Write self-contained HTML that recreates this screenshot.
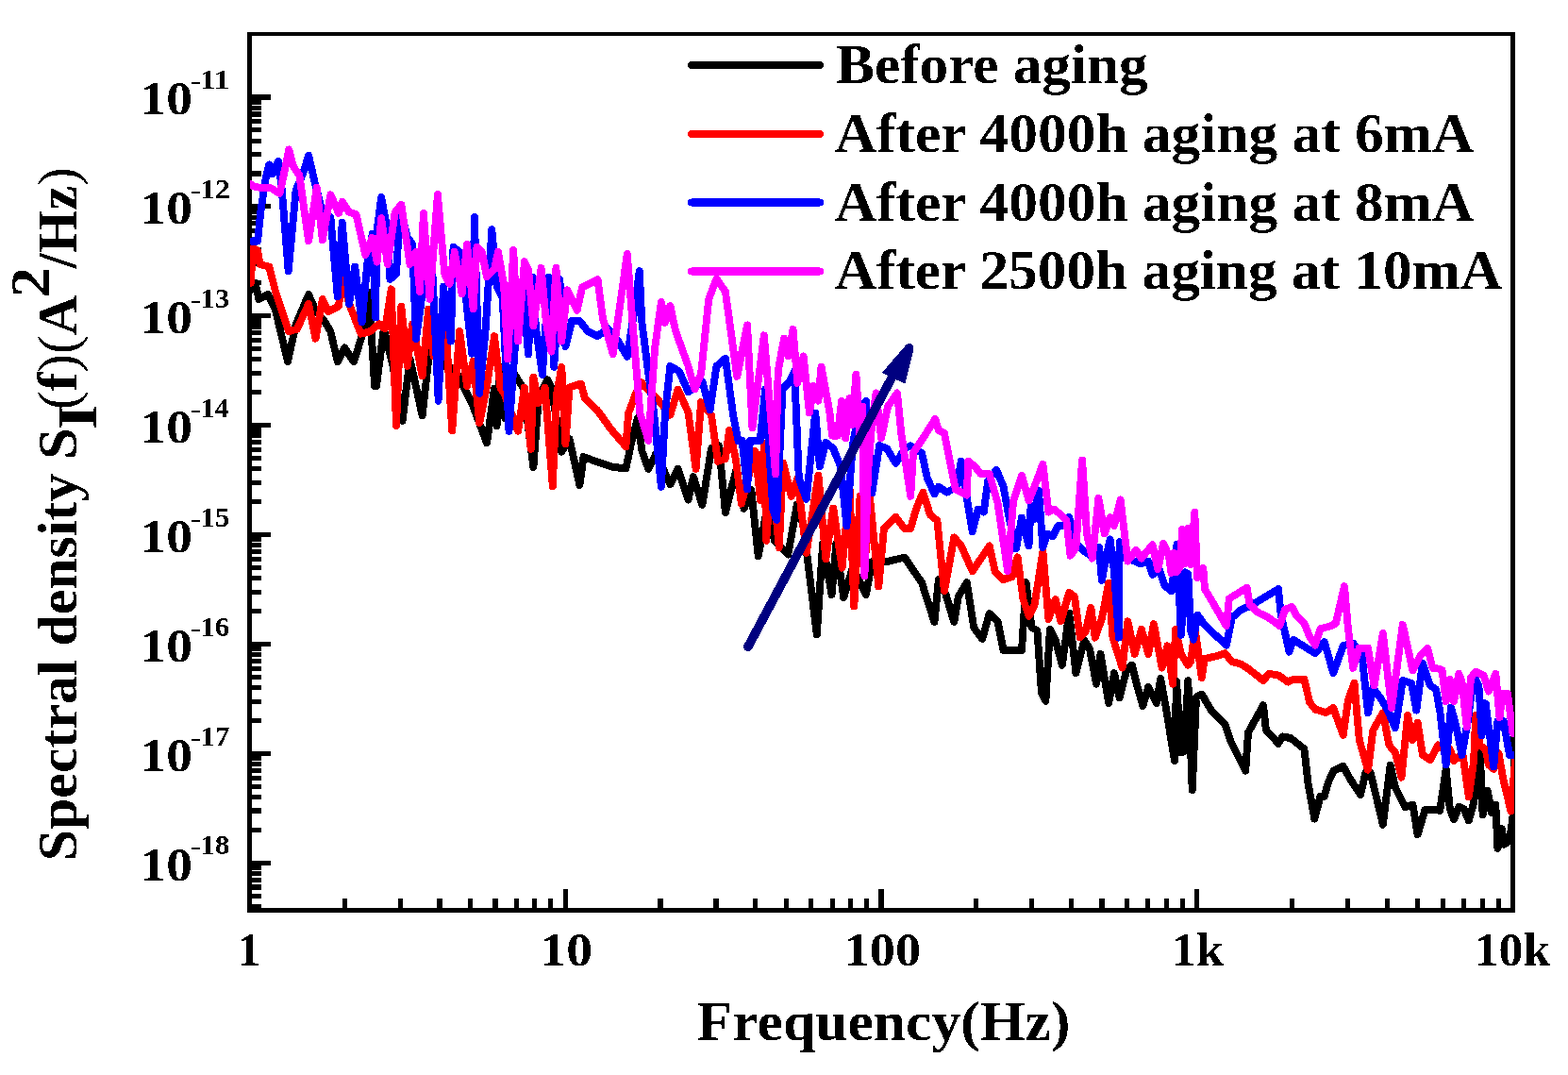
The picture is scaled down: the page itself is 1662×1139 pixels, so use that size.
<!DOCTYPE html><html><head><meta charset="utf-8"><title>Spectral density vs frequency</title><style>html,body{margin:0;padding:0;background:#fff;overflow:hidden;}svg{display:block;}text{font-family:"Liberation Serif","Times New Roman",serif;font-weight:bold;fill:#000;}</style></head><body>
<svg width="1662" height="1139" viewBox="0 0 1662 1139">
<defs>
<clipPath id="pa"><rect x="265" y="38" width="1340" height="924"/></clipPath>
<filter id="bin" filterUnits="userSpaceOnUse" x="0" y="0" width="1662" height="1139" color-interpolation-filters="sRGB"><feComponentTransfer><feFuncA type="discrete" tableValues="0 1"/></feComponentTransfer></filter>
</defs>
<rect x="0" y="0" width="1662" height="1139" fill="#fff"/>
<g>
<g fill="#000" filter="url(#bin)">
<rect x="262" y="34" width="1344" height="4"/>
<rect x="262" y="962" width="1344" height="5"/>
<rect x="262" y="34" width="5" height="933"/>
<rect x="1601" y="34" width="5" height="933"/>
<rect x="267" y="100.5" width="20" height="5"/>
<rect x="267" y="216.4" width="20" height="5"/>
<rect x="267" y="332.3" width="20" height="5"/>
<rect x="267" y="448.2" width="20" height="5"/>
<rect x="267" y="564.1" width="20" height="5"/>
<rect x="267" y="680.0" width="20" height="5"/>
<rect x="267" y="795.9" width="20" height="5"/>
<rect x="267" y="911.8" width="20" height="5"/>
<rect x="267" y="181.5" width="10" height="5"/>
<rect x="267" y="161.1" width="10" height="5"/>
<rect x="267" y="146.6" width="10" height="5"/>
<rect x="267" y="135.4" width="10" height="5"/>
<rect x="267" y="126.2" width="10" height="5"/>
<rect x="267" y="118.5" width="10" height="5"/>
<rect x="267" y="111.7" width="10" height="5"/>
<rect x="267" y="105.8" width="10" height="5"/>
<rect x="267" y="297.4" width="10" height="5"/>
<rect x="267" y="277.0" width="10" height="5"/>
<rect x="267" y="262.5" width="10" height="5"/>
<rect x="267" y="251.3" width="10" height="5"/>
<rect x="267" y="242.1" width="10" height="5"/>
<rect x="267" y="234.4" width="10" height="5"/>
<rect x="267" y="227.6" width="10" height="5"/>
<rect x="267" y="221.7" width="10" height="5"/>
<rect x="267" y="413.3" width="10" height="5"/>
<rect x="267" y="392.9" width="10" height="5"/>
<rect x="267" y="378.4" width="10" height="5"/>
<rect x="267" y="367.2" width="10" height="5"/>
<rect x="267" y="358.0" width="10" height="5"/>
<rect x="267" y="350.3" width="10" height="5"/>
<rect x="267" y="343.5" width="10" height="5"/>
<rect x="267" y="337.6" width="10" height="5"/>
<rect x="267" y="529.2" width="10" height="5"/>
<rect x="267" y="508.8" width="10" height="5"/>
<rect x="267" y="494.3" width="10" height="5"/>
<rect x="267" y="483.1" width="10" height="5"/>
<rect x="267" y="473.9" width="10" height="5"/>
<rect x="267" y="466.2" width="10" height="5"/>
<rect x="267" y="459.4" width="10" height="5"/>
<rect x="267" y="453.5" width="10" height="5"/>
<rect x="267" y="645.1" width="10" height="5"/>
<rect x="267" y="624.7" width="10" height="5"/>
<rect x="267" y="610.2" width="10" height="5"/>
<rect x="267" y="599.0" width="10" height="5"/>
<rect x="267" y="589.8" width="10" height="5"/>
<rect x="267" y="582.1" width="10" height="5"/>
<rect x="267" y="575.3" width="10" height="5"/>
<rect x="267" y="569.4" width="10" height="5"/>
<rect x="267" y="761.0" width="10" height="5"/>
<rect x="267" y="740.6" width="10" height="5"/>
<rect x="267" y="726.1" width="10" height="5"/>
<rect x="267" y="714.9" width="10" height="5"/>
<rect x="267" y="705.7" width="10" height="5"/>
<rect x="267" y="698.0" width="10" height="5"/>
<rect x="267" y="691.2" width="10" height="5"/>
<rect x="267" y="685.3" width="10" height="5"/>
<rect x="267" y="876.9" width="10" height="5"/>
<rect x="267" y="856.5" width="10" height="5"/>
<rect x="267" y="842.0" width="10" height="5"/>
<rect x="267" y="830.8" width="10" height="5"/>
<rect x="267" y="821.6" width="10" height="5"/>
<rect x="267" y="813.9" width="10" height="5"/>
<rect x="267" y="807.1" width="10" height="5"/>
<rect x="267" y="801.2" width="10" height="5"/>
<rect x="267" y="957.9" width="10" height="5"/>
<rect x="267" y="946.7" width="10" height="5"/>
<rect x="267" y="937.5" width="10" height="5"/>
<rect x="267" y="929.8" width="10" height="5"/>
<rect x="267" y="923.0" width="10" height="5"/>
<rect x="267" y="917.1" width="10" height="5"/>
<rect x="362.8" y="952" width="5" height="10"/>
<rect x="421.7" y="952" width="5" height="10"/>
<rect x="463.5" y="952" width="5" height="10"/>
<rect x="496.0" y="952" width="5" height="10"/>
<rect x="522.5" y="952" width="5" height="10"/>
<rect x="544.9" y="952" width="5" height="10"/>
<rect x="564.3" y="952" width="5" height="10"/>
<rect x="581.4" y="952" width="5" height="10"/>
<rect x="596.8" y="942" width="5" height="20"/>
<rect x="697.5" y="952" width="5" height="10"/>
<rect x="756.5" y="952" width="5" height="10"/>
<rect x="798.3" y="952" width="5" height="10"/>
<rect x="830.7" y="952" width="5" height="10"/>
<rect x="857.2" y="952" width="5" height="10"/>
<rect x="879.6" y="952" width="5" height="10"/>
<rect x="899.1" y="952" width="5" height="10"/>
<rect x="916.2" y="952" width="5" height="10"/>
<rect x="931.5" y="942" width="5" height="20"/>
<rect x="1032.3" y="952" width="5" height="10"/>
<rect x="1091.2" y="952" width="5" height="10"/>
<rect x="1133.0" y="952" width="5" height="10"/>
<rect x="1165.5" y="952" width="5" height="10"/>
<rect x="1192.0" y="952" width="5" height="10"/>
<rect x="1214.4" y="952" width="5" height="10"/>
<rect x="1233.8" y="952" width="5" height="10"/>
<rect x="1250.9" y="952" width="5" height="10"/>
<rect x="1266.2" y="942" width="5" height="20"/>
<rect x="1367.0" y="952" width="5" height="10"/>
<rect x="1426.0" y="952" width="5" height="10"/>
<rect x="1467.8" y="952" width="5" height="10"/>
<rect x="1500.2" y="952" width="5" height="10"/>
<rect x="1526.7" y="952" width="5" height="10"/>
<rect x="1549.1" y="952" width="5" height="10"/>
<rect x="1568.6" y="952" width="5" height="10"/>
<rect x="1585.7" y="952" width="5" height="10"/>
</g>
<g clip-path="url(#pa)" fill="none" stroke-width="7.9" stroke-linejoin="round" stroke-linecap="round">
<polyline stroke="#000000" filter="url(#bin)" points="265.7,307.0 270.6,299.7 274.3,316.9 284.1,312.0 291.5,326.7 305.0,383.2 313.6,343.9 327.1,312.0 334.5,329.1 343.1,339.0 350.4,351.3 357.8,383.2 365.2,368.4 375.0,383.2 383.6,356.2 391.0,309.5 397.1,409.0 399.0,409.0 406.8,348.4 416.0,385.3 426.6,445.8 434.5,380.0 447.6,440.5 455.5,369.5 471.3,387.9 481.8,390.5 500.3,427.4 516.0,469.5 524.0,411.6 526.6,451.0 530.0,388.8 535.4,443.3 543.6,394.2 554.5,410.6 565.4,495.0 570.8,421.5 580.4,402.4 584.5,410.6 595.3,478.6 603.5,465.0 614.4,514.0 618.5,484.1 633.5,489.5 649.8,495.0 663.4,496.3 668.9,470.5 675.7,443.3 680.4,477.8 687.3,496.9 695.4,480.5 710.4,513.2 718.6,496.9 729.5,529.5 734.9,505.0 744.4,535.0 754.0,475.1 762.1,472.4 768.9,543.2 779.8,499.6 788.5,539.0 796.3,519.0 803.7,589.6 816.4,520.0 820.6,572.7 835.3,587.5 844.8,534.8 851.6,557.3 865.8,672.6 872.1,576.3 881.6,630.0 886.3,576.3 894.2,633.1 903.7,601.6 917.9,630.0 924.2,595.2 940.0,595.2 958.9,590.5 968.4,604.7 977.0,617.2 990.4,659.0 994.9,614.2 1002.3,629.1 1011.3,659.0 1015.8,632.1 1024.8,617.2 1032.2,665.0 1041.2,677.0 1048.7,650.0 1057.6,659.0 1063.6,688.9 1083.0,688.9 1087.5,617.2 1093.5,665.0 1099.4,668.0 1103.9,733.7 1108.4,742.7 1112.9,666.9 1118.7,678.5 1125.9,704.6 1133.2,649.6 1140.4,713.3 1149.1,678.5 1154.9,687.2 1162.1,724.8 1166.5,693.0 1175.2,745.1 1181.0,713.3 1186.7,739.3 1194.0,710.4 1199.8,704.6 1205.6,727.7 1211.4,748.0 1217.2,727.7 1225.8,745.1 1230.2,719.0 1236.0,750.9 1245.0,806.0 1247.0,722.0 1251.9,797.3 1255.0,796.4 1259.3,721.1 1263.7,837.0 1268.0,738.5 1273.8,735.6 1284.0,753.0 1298.4,767.5 1304.2,784.8 1320.2,816.7 1323.0,776.2 1339.0,747.2 1341.9,773.3 1354.9,787.7 1359.3,780.5 1368.0,782.0 1382.4,793.5 1386.5,830.0 1393.3,867.5 1399.5,843.8 1403.7,843.8 1407.9,828.9 1413.2,817.1 1423.7,811.8 1431.6,826.3 1442.1,842.1 1447.4,818.4 1452.6,818.4 1465.8,873.7 1473.7,810.5 1478.9,834.2 1489.5,855.3 1497.4,852.6 1502.6,884.2 1510.5,857.9 1518.4,857.9 1526.3,858.9 1532.6,814.7 1536.8,856.8 1541.1,868.4 1546.3,854.7 1551.6,856.8 1556.8,869.5 1562.1,850.5 1568.4,789.5 1571.6,863.2 1576.8,837.9 1581.1,861.1 1585.3,852.6 1587.4,898.9 1591.6,877.9 1594.7,894.7 1600.0,890.5 1603.5,865.3"/>
<polyline stroke="#ff0000" filter="url(#bin)" points="265.7,299.7 268.1,262.8 273.0,265.3 275.5,280.0 285.3,282.5 291.5,307.0 306.2,351.3 314.8,348.8 327.1,321.8 334.5,358.6 341.8,316.9 348.0,330.4 359.0,324.2 362.7,292.3 370.1,321.8 382.4,353.7 392.2,351.3 401.6,343.2 408.2,348.4 414.7,306.3 420.0,451.0 425.3,324.7 431.8,387.9 437.1,343.2 447.6,398.4 454.2,327.4 459.5,377.4 472.6,348.4 479.2,456.3 487.1,351.0 495.0,409.0 501.6,382.6 508.2,448.4 516.0,409.0 524.0,356.3 530.5,411.6 534.1,416.0 549.1,456.9 555.9,410.6 562.7,475.9 565.4,399.7 570.8,426.9 577.6,410.6 585.8,515.4 589.9,418.7 595.3,388.8 599.4,470.5 603.5,410.6 615.8,406.5 619.8,421.5 633.5,435.1 647.1,454.1 663.4,473.2 666.1,437.8 674.3,416.0 679.7,405.1 691.3,417.9 699.5,426.1 710.4,439.7 718.6,412.5 729.5,437.0 737.6,496.9 743.1,426.1 754.0,439.7 760.8,488.7 768.9,486.0 773.0,456.0 779.8,486.0 785.8,533.7 800.6,478.0 806.0,530.0 810.0,470.0 812.2,572.7 818.0,500.0 825.8,580.0 830.0,490.5 838.9,525.8 845.3,506.8 854.7,585.8 867.4,503.7 875.3,592.1 883.2,538.4 892.6,601.6 900.5,516.3 905.3,642.6 911.6,525.8 916.5,600.0 922.0,528.0 931.3,621.6 936.9,559.8 949.5,547.9 958.9,560.5 965.0,560.4 971.0,539.5 978.4,521.6 985.9,545.5 993.4,551.5 1000.9,626.2 1011.3,569.4 1018.8,578.4 1030.7,605.2 1048.7,578.4 1054.6,605.2 1063.6,614.2 1072.6,611.2 1078.5,590.3 1084.5,635.1 1090.5,653.0 1096.5,641.1 1105.4,584.3 1111.4,656.0 1118.7,635.1 1124.5,658.2 1133.2,627.8 1139.0,632.2 1144.8,675.6 1150.5,669.8 1156.3,643.8 1160.7,675.6 1167.9,655.3 1175.2,617.7 1179.5,675.6 1189.6,707.5 1195.4,658.2 1202.7,693.0 1209.9,666.9 1217.2,693.0 1222.9,661.1 1231.6,707.5 1237.4,684.3 1243.2,724.8 1246.1,666.9 1251.9,693.0 1259.1,704.6 1262.2,700.9 1266.6,666.1 1273.8,718.2 1276.7,698.0 1289.8,695.1 1298.4,692.2 1305.7,700.9 1315.8,703.8 1324.5,709.6 1339.0,721.1 1344.8,713.9 1354.9,715.3 1365.0,722.6 1370.8,719.7 1382.4,719.7 1388.2,744.3 1394.0,751.5 1405.3,755.3 1413.2,750.0 1423.7,778.9 1428.9,742.1 1435.5,723.7 1440.8,784.2 1450.0,815.8 1455.3,773.7 1465.8,755.3 1472.4,789.5 1478.9,797.4 1485.5,823.7 1492.1,757.9 1497.4,784.2 1502.6,765.8 1507.9,800.0 1515.8,805.3 1524.2,789.5 1529.5,793.7 1536.8,793.7 1541.1,806.3 1545.3,802.1 1550.5,800.0 1556.8,844.2 1562.1,806.3 1564.2,757.9 1568.4,789.5 1574.7,793.7 1577.9,810.5 1583.2,814.7 1588.4,797.9 1593.7,827.4 1601.5,859.5 1606.0,805.0"/>
<polyline stroke="#0000ff" filter="url(#bin)" points="266.9,255.5 273.0,255.5 276.7,221.0 281.7,189.0 285.3,174.4 289.0,184.2 295.2,170.7 298.8,201.4 305.7,287.4 313.6,201.4 321.0,184.2 327.1,164.6 333.2,191.6 340.6,221.0 350.4,230.9 357.8,314.4 362.7,235.8 370.1,321.8 376.2,282.5 383.6,341.4 389.7,275.1 394.6,248.1 398.3,336.5 399.0,248.4 404.2,208.9 409.5,237.9 413.4,295.8 420.0,290.5 424.0,222.1 431.8,251.0 437.1,258.9 441.0,359.0 447.6,311.6 451.6,298.4 458.2,285.3 464.7,424.7 470.0,303.7 477.9,361.6 480.5,261.6 487.1,266.8 493.7,314.2 500.3,374.7 502.9,230.0 508.2,416.8 514.7,348.4 521.3,243.2 526.6,303.7 532.7,315.3 539.5,456.9 546.3,361.6 554.5,309.8 560.0,375.2 564.0,293.5 568.1,348.0 574.9,397.0 581.7,293.5 587.2,388.8 593.2,296.2 599.4,367.0 606.2,339.8 614.4,339.8 622.6,350.7 633.5,356.1 644.3,348.0 655.2,361.6 664.8,377.9 671.6,334.3 677.7,287.2 680.4,341.7 687.3,396.1 692.7,434.2 700.9,515.9 705.0,437.0 710.4,388.0 719.9,393.4 729.5,415.2 744.4,404.3 752.6,434.2 759.4,388.0 768.9,379.8 777.1,439.7 782.5,466.9 786.6,466.9 792.1,518.6 794.8,466.9 805.7,466.9 811.1,412.5 819.3,540.4 823.2,551.0 829.5,412.1 835.8,405.8 842.1,393.2 846.8,506.8 854.7,528.9 864.2,437.4 868.9,494.2 875.3,468.9 883.2,475.2 891.0,494.2 897.4,557.3 903.7,472.1 911.6,431.1 917.9,424.7 924.2,522.6 932.1,472.1 940.0,475.2 949.5,491.0 958.9,475.2 965.0,472.3 977.0,479.8 982.9,506.6 990.4,523.1 994.9,515.6 1003.8,521.6 1014.3,515.6 1018.8,488.7 1024.8,527.6 1030.7,563.4 1036.7,539.5 1042.7,542.5 1047.2,509.6 1056.1,497.7 1063.6,515.6 1069.6,548.5 1077.0,581.3 1083.0,548.5 1090.5,578.4 1092.6,536.0 1096.0,550.0 1101.0,520.0 1105.3,580.0 1110.0,565.6 1115.8,568.5 1121.6,556.9 1127.4,556.9 1133.2,548.2 1139.0,574.3 1147.6,582.9 1156.3,588.7 1165.0,580.0 1167.9,614.8 1172.3,591.6 1176.6,571.4 1181.0,606.1 1185.9,675.6 1186.7,574.3 1194.0,591.6 1202.7,594.5 1208.5,597.4 1217.2,594.5 1221.5,609.0 1228.7,603.2 1234.5,620.6 1241.8,626.4 1247.5,577.0 1251.9,672.7 1256.2,606.1 1259.3,608.2 1262.2,669.0 1265.1,677.7 1269.5,651.6 1275.3,660.3 1284.0,669.0 1299.9,683.5 1305.7,654.5 1315.8,645.8 1323.0,643.0 1333.2,637.2 1354.9,624.1 1357.8,651.6 1366.5,690.7 1370.8,677.7 1382.4,685.0 1394.0,692.2 1403.9,680.3 1413.2,713.2 1423.7,684.2 1434.2,681.6 1443.4,692.1 1450.0,755.3 1455.3,728.9 1463.2,739.5 1471.0,752.6 1478.9,771.1 1486.8,721.1 1496.0,723.7 1501.3,752.6 1507.9,702.6 1515.8,726.3 1522.1,730.5 1526.3,753.7 1532.6,810.5 1537.9,749.5 1543.2,768.4 1549.5,800.0 1555.8,764.2 1562.1,715.8 1567.4,726.3 1570.5,778.9 1574.7,745.3 1583.2,812.6 1587.4,764.2 1593.7,764.2 1600.0,800.0 1603.5,800.0"/>
<polyline stroke="#ff00ff" filter="url(#bin)" points="265.7,195.3 269.4,197.7 276.7,199.0 286.6,199.0 296.4,205.0 300.0,189.0 306.2,158.4 311.1,176.8 317.3,185.4 327.1,255.5 335.7,199.0 341.8,254.2 350.4,206.3 359.0,226.0 362.7,213.7 370.1,224.7 377.5,227.2 387.3,270.2 394.6,251.8 399.6,277.6 404.2,231.3 410.8,280.0 418.7,224.7 425.3,216.8 434.5,280.0 441.0,266.8 445.0,308.9 448.9,226.0 455.5,316.8 463.9,206.3 471.3,290.5 476.6,301.0 481.8,266.8 489.7,311.6 495.0,259.0 501.6,327.4 505.5,261.6 510.8,266.8 516.0,293.2 524.0,285.3 527.9,266.8 534.1,301.7 538.2,380.6 544.2,264.9 549.1,361.6 555.9,277.2 560.0,285.3 565.4,345.2 573.6,284.0 579.0,342.5 584.5,372.5 589.4,284.0 595.3,361.6 601.3,307.1 611.7,328.9 617.1,304.4 633.5,296.2 638.9,337.1 649.8,375.2 664.8,269.0 671.6,356.1 678.4,437.8 687.3,466.9 694.1,368.9 700.9,319.9 705.0,341.7 710.4,324.0 715.8,349.8 729.5,388.0 736.3,412.5 743.1,396.1 751.2,317.2 759.4,295.4 768.9,309.0 781.2,398.9 792.1,344.4 797.5,453.3 809.8,355.3 822.0,502.3 824.7,393.2 831.1,358.4 835.8,377.4 840.5,348.9 845.3,405.8 851.6,377.4 857.9,437.4 862.6,408.9 867.4,424.7 870.5,388.4 879.3,436.2 882.1,461.5 887.8,461.5 892.0,425.0 896.2,464.3 900.4,422.1 903.2,450.2 907.4,396.9 911.6,464.3 914.4,430.6 916.4,610.3 920.0,500.8 924.3,447.4 928.5,416.5 934.1,464.3 941.1,430.6 951.0,416.5 955.2,458.7 965.2,525.8 968.0,479.8 979.9,461.8 991.3,443.9 994.9,455.9 1000.9,458.8 1012.8,518.6 1024.8,524.6 1026.2,488.7 1033.7,494.7 1039.7,502.2 1048.7,502.2 1057.6,533.5 1068.1,605.2 1074.1,530.5 1083.0,503.7 1090.5,530.5 1096.5,515.6 1105.4,491.7 1111.4,542.5 1117.2,539.5 1124.5,545.3 1130.3,551.1 1134.6,588.7 1140.4,580.0 1147.1,487.4 1152.0,565.6 1157.8,591.6 1164.4,527.9 1170.8,565.6 1176.6,548.2 1181.0,556.9 1187.6,529.4 1195.4,594.5 1204.1,582.9 1209.9,591.6 1221.5,577.2 1227.3,603.2 1233.1,575.7 1238.9,588.7 1241.5,607.0 1244.5,586.0 1247.5,606.0 1251.0,600.0 1253.0,561.0 1256.0,597.0 1259.0,560.0 1262.0,598.0 1266.3,542.8 1269.0,612.0 1275.3,602.0 1277.0,624.0 1289.8,645.8 1299.9,663.2 1302.8,634.3 1321.6,622.7 1324.5,640.0 1333.2,648.7 1344.8,654.5 1356.4,663.2 1362.2,645.8 1369.4,643.0 1373.7,651.6 1382.4,660.3 1388.2,674.8 1394.0,683.5 1399.8,666.1 1410.5,663.2 1415.8,660.5 1425.0,621.0 1428.9,665.8 1434.2,707.9 1440.8,686.8 1450.0,686.8 1456.6,726.3 1465.8,671.0 1475.0,750.0 1486.8,661.8 1497.4,710.5 1505.3,694.7 1513.2,686.8 1518.4,707.9 1523.2,708.4 1528.4,709.5 1532.6,743.2 1536.8,720.0 1541.1,743.2 1546.3,713.7 1549.5,722.1 1554.7,770.5 1559.0,717.9 1564.2,711.6 1572.6,715.8 1577.9,732.6 1585.3,713.7 1589.5,760.0 1592.6,734.7 1597.9,734.7 1603.5,776.8"/>
</g>
<g filter="url(#bin)">
<text transform="translate(886.18,87.90) scale(1.0206,1)" font-size="60">Before aging</text>
<text transform="translate(884.69,161.00) scale(1.0232,1)" font-size="60">After 4000h aging at 6mA</text>
<text transform="translate(884.69,234.00) scale(1.0232,1)" font-size="60">After 4000h aging at 8mA</text>
<text transform="translate(884.69,306.00) scale(1.0221,1)" font-size="60">After 2500h aging at 10mA</text>
<text transform="translate(738.77,1102.10) scale(1.0266,1)" font-size="60">Frequency(Hz)</text>
<text transform="translate(252.04,1023.00) scale(0.9653,1)" font-size="50.6">1</text>
<text transform="translate(572.49,1023.00) scale(1.1017,1)" font-size="50.6">10</text>
<text transform="translate(894.61,1023.00) scale(1.0729,1)" font-size="50.6">100</text>
<text transform="translate(1241.44,1023.00) scale(1.0404,1)" font-size="50.6">1k</text>
<text transform="translate(1562.50,1023.00) scale(1.0261,1)" font-size="50.6">10k</text>
<text transform="translate(148.40,121.30) scale(1.0994,1)" font-size="50.6">10</text>
<text transform="translate(201.64,94.10) scale(1.0909,0.8)" font-size="32">-</text>
<text transform="translate(211.97,94.10) scale(1.0939,1)" font-size="30.3">11</text>
<text transform="translate(148.40,237.20) scale(1.0994,1)" font-size="50.6">10</text>
<text transform="translate(201.64,210.00) scale(1.0909,0.8)" font-size="32">-</text>
<text transform="translate(212.08,210.00) scale(1.0491,1)" font-size="30.3">12</text>
<text transform="translate(148.40,353.10) scale(1.0994,1)" font-size="50.6">10</text>
<text transform="translate(201.64,325.90) scale(1.0909,0.8)" font-size="32">-</text>
<text transform="translate(212.10,325.90) scale(1.0393,1)" font-size="30.3">13</text>
<text transform="translate(148.40,469.00) scale(1.0994,1)" font-size="50.6">10</text>
<text transform="translate(201.64,441.80) scale(1.0909,0.8)" font-size="32">-</text>
<text transform="translate(212.15,441.80) scale(1.0202,1)" font-size="30.3">14</text>
<text transform="translate(148.40,584.90) scale(1.0994,1)" font-size="50.6">10</text>
<text transform="translate(201.64,557.70) scale(1.0909,0.8)" font-size="32">-</text>
<text transform="translate(212.10,557.70) scale(1.0393,1)" font-size="30.3">15</text>
<text transform="translate(148.40,700.80) scale(1.0994,1)" font-size="50.6">10</text>
<text transform="translate(201.64,673.60) scale(1.0909,0.8)" font-size="32">-</text>
<text transform="translate(212.13,673.60) scale(1.0296,1)" font-size="30.3">16</text>
<text transform="translate(148.40,816.70) scale(1.0994,1)" font-size="50.6">10</text>
<text transform="translate(201.64,789.50) scale(1.0909,0.8)" font-size="32">-</text>
<text transform="translate(212.13,789.50) scale(1.0296,1)" font-size="30.3">17</text>
<text transform="translate(148.40,932.60) scale(1.0994,1)" font-size="50.6">10</text>
<text transform="translate(201.64,905.40) scale(1.0909,0.8)" font-size="32">-</text>
<text transform="translate(212.10,905.40) scale(1.0393,1)" font-size="30.3">18</text>
<g transform="translate(81,0) rotate(-90)">
<text transform="translate(-912.24,0.00) scale(0.9977,1)" font-size="60">Spectral density S</text>
<text transform="translate(-455.08,21.00) scale(1.1377,1)" font-size="60">I</text>
<text transform="translate(-434.00,0.00) scale(0.9825,1)" font-size="60"><tspan font-weight="normal">(</tspan>f<tspan font-weight="normal">)(</tspan>A</text>
<text transform="translate(-315.30,-29.00) scale(1.0800,1)" font-size="60">2</text>
<text transform="translate(-284.51,0.00) scale(0.9754,1)" font-size="60">/Hz<tspan font-weight="normal">)</tspan></text>
</g>
</g>
<line x1="733" y1="68.9" x2="869" y2="68.9" stroke="#000000" stroke-width="8" stroke-linecap="round" filter="url(#bin)"/>
<line x1="733" y1="141.9" x2="869" y2="141.9" stroke="#ff0000" stroke-width="8" stroke-linecap="round" filter="url(#bin)"/>
<line x1="733" y1="214.4" x2="869" y2="214.4" stroke="#0000ff" stroke-width="8" stroke-linecap="round" filter="url(#bin)"/>
<line x1="733" y1="287.5" x2="869" y2="287.5" stroke="#ff00ff" stroke-width="8" stroke-linecap="round" filter="url(#bin)"/>
<g stroke="#000080" fill="#000080" filter="url(#bin)">
<line x1="792.9" y1="685.3" x2="948" y2="395" stroke-width="9.6" stroke-linecap="round"/>
<polygon points="961.6,365.2 966.6,365.2 967.2,372 958.8,405.6 936,394.8" stroke-width="1.6" stroke-linejoin="round"/>
</g>
</g></svg></body></html>
